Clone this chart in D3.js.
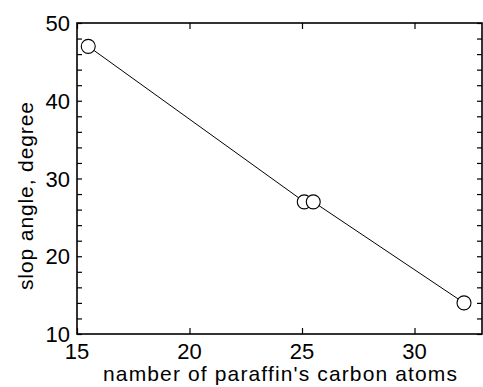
<!DOCTYPE html>
<html>
<head>
<meta charset="utf-8">
<script src="https://cdn.jsdelivr.net/npm/d3@7"></script>
<style>
  body { margin: 0; background: #fff; }
  text { font-family: "Liberation Sans", Arial, sans-serif; fill: #000; }
</style>
</head>
<body>
<div id="chart"></div>
<script>
// carbon atoms vs slope angle
var carbonAtoms = [15.5, 25.1, 25.5, 32.2];
var slopAngle = [47, 27, 27, 14];
var xTicks = [15, 20, 25, 30];
var yTicks = [10, 20, 30, 40, 50];

var width = 483, height = 387;
var margin = {left: 77, right: 1, top: 23, bottom: 53};

var svg = d3.select("#chart").append("svg")
  .attr("width", width).attr("height", height);

var x = d3.scaleLinear().domain([15, 33]).range([margin.left, width - margin.right]);
var y = d3.scaleLinear().domain([10, 50]).range([height - margin.bottom, margin.top]);

var g = svg.append("g");

// inward ticks on all four sides
g.append("g").attr("transform", "translate(0," + y(10) + ")")
  .call(d3.axisBottom(x).tickValues(xTicks).tickSize(-6).tickSizeOuter(0).tickFormat(""));
g.append("g").attr("transform", "translate(0," + y(50) + ")")
  .call(d3.axisTop(x).tickValues(xTicks).tickSize(-6).tickSizeOuter(0).tickFormat(""));
var yMinor = d3.range(10, 51, 2);
g.append("g").attr("transform", "translate(" + x(15) + ",0)")
  .call(d3.axisLeft(y).tickValues(yMinor).tickSize(-5).tickSizeOuter(0).tickFormat(""));
g.append("g").attr("transform", "translate(" + x(33) + ",0)")
  .call(d3.axisRight(y).tickValues(yMinor).tickSize(-5).tickSizeOuter(0).tickFormat(""));
g.selectAll(".domain").remove();
g.selectAll(".tick line").attr("stroke", "#000").attr("stroke-width", 1.2);

// frame
svg.append("rect")
  .attr("x", x(15)).attr("y", y(50))
  .attr("width", x(33) - x(15)).attr("height", y(10) - y(50))
  .attr("fill", "none").attr("stroke", "#000").attr("stroke-width", 1.6);

// tick labels
svg.selectAll(".xl").data(xTicks).enter().append("text")
  .attr("x", function(d) { return x(d); })
  .attr("y", y(10) + 25)
  .attr("text-anchor", "middle")
  .style("font-size", "22px")
  .text(function(d) { return d; });
svg.selectAll(".yl").data(yTicks).enter().append("text")
  .attr("x", x(15) - 7)
  .attr("y", function(d) { return y(d) + 8; })
  .attr("text-anchor", "end")
  .style("font-size", "22px")
  .text(function(d) { return d; });

// axis titles
svg.append("text")
  .attr("x", 103)
  .attr("y", 381)
  .attr("textLength", 354)
  .style("font-size", "21px")
  .text("namber of paraffin's carbon atoms");
svg.append("text")
  .attr("transform", "translate(33,290) rotate(-90)")
  .attr("textLength", 188)
  .style("font-size", "21px")
  .text("slop angle, degree");

// line + markers
var pts = carbonAtoms.map(function(c, i) { return [c, slopAngle[i]]; });
svg.append("path").datum(pts)
  .attr("fill", "none").attr("stroke", "#000").attr("stroke-width", 1)
  .attr("d", d3.line().x(function(d) { return x(d[0]); }).y(function(d) { return y(d[1]); }));
svg.selectAll("circle").data(pts).enter().append("circle")
  .attr("cx", function(d) { return x(d[0]); })
  .attr("cy", function(d) { return y(d[1]); })
  .attr("r", 7)
  .attr("fill", "#fff").attr("stroke", "#000").attr("stroke-width", 1.1);
</script>
</body>
</html>
